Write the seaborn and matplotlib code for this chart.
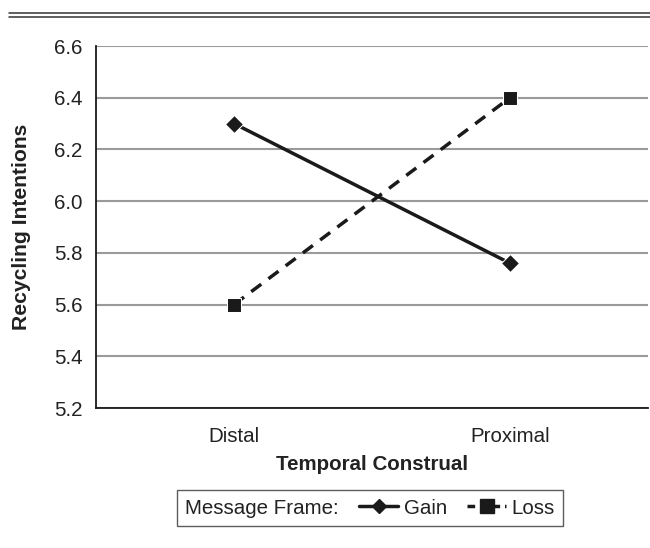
import numpy as np
import pandas as pd
import matplotlib
matplotlib.use("Agg")
import matplotlib.pyplot as plt
import seaborn as sns
from matplotlib.lines import Line2D
from matplotlib.patches import Patch

# Data
construal = ["Distal", "Proximal"]
gain = [6.30, 5.76]
loss = [5.60, 6.40]

df = pd.DataFrame({
    "Temporal Construal": construal * 2,
    "Frame": ["Gain"] * 2 + ["Loss"] * 2,
    "Recycling Intentions": gain + loss,
})

sns.set_style("white")
plt.rcParams['font.family'] = ['Liberation Sans', 'DejaVu Sans']

fs = 14.8
fig = plt.figure(figsize=(6.5, 5.48), dpi=100)
ax = fig.add_axes([96/650, 1-408/548, 552/650, 362/548])

ink = "#1a1a1a"
sns.lineplot(data=df, x="Temporal Construal", y="Recycling Intentions",
             style="Frame", markers={"Gain": "D", "Loss": "s"},
             dashes={"Gain": "", "Loss": (3.6, 2.6)},
             color=ink, linewidth=2.5, ax=ax, legend=False, zorder=3)
for ln in ax.lines:
    ln.set_markersize(9 if ln.get_marker() == "D" else 10.5)

ax.set_ylim(5.2, 6.6)
yt = np.arange(5.2, 6.61, 0.2)
ax.set_yticks(yt)
ax.set_yticklabels([f"{v:.1f}" for v in yt])
ax.set_xlim(-0.5, 1.5)
ax.set_xticks([0, 1])
ax.set_xticklabels(construal)
ax.set_xticks([-0.5, 0.5, 1.5], minor=True)
ax.tick_params(axis="x", which="major", length=0, labelsize=fs, pad=14, labelcolor="#222")
ax.tick_params(axis="x", which="minor", length=4.5, width=1.2, direction="out", color=ink)
ax.tick_params(axis="y", length=4.5, width=1.2, direction="out", labelsize=fs, pad=5,
               labelcolor="#222", color=ink)

ax.yaxis.grid(True, color="#9a9a9a", linewidth=1.5)
ax.set_axisbelow(True)
for s in ["top", "right"]:
    ax.spines[s].set_visible(False)
for s in ["left", "bottom"]:
    ax.spines[s].set_color(ink)
    ax.spines[s].set_linewidth(1.3)

ax.set_xlabel("Temporal Construal", fontsize=fs, fontweight="bold", labelpad=6, color="#222")
ax.set_ylabel("Recycling Intentions", fontsize=15.2, fontweight="bold", labelpad=17, color="#222")

# Legend
handles = [Patch(visible=False),
           Line2D([], [], color=ink, lw=2.5, marker="D", markersize=7.5),
           Line2D([], [], color=ink, lw=2.5, marker="s", markersize=9.5, linestyle=(0, (2.2, 1.4)))]
labels = ["Message Frame:", "Gain", "Loss"]
leg = fig.legend(handles, labels, ncol=3, loc="center", bbox_to_anchor=(370/650, 1-508/548),
                 frameon=True, fancybox=False, edgecolor="#333", fontsize=fs,
                 handlelength=1.9, handletextpad=0.25, columnspacing=1.0,
                 borderpad=0.4)
leg.get_frame().set_linewidth(1.0)
for t in leg.get_texts():
    t.set_color("#222")
cols = leg._legend_handle_box.get_children()
cols[0].get_children()[0].get_children()[0].width = 0
cols[0].get_children()[0].sep = 0

# Double rule at top
for yy in [12.7, 16.7]:
    fig.add_artist(Line2D([9/650, 1], [1-yy/548]*2, transform=fig.transFigure,
                          color="#333", lw=1.1))

fig.savefig("out.png", dpi=100)
